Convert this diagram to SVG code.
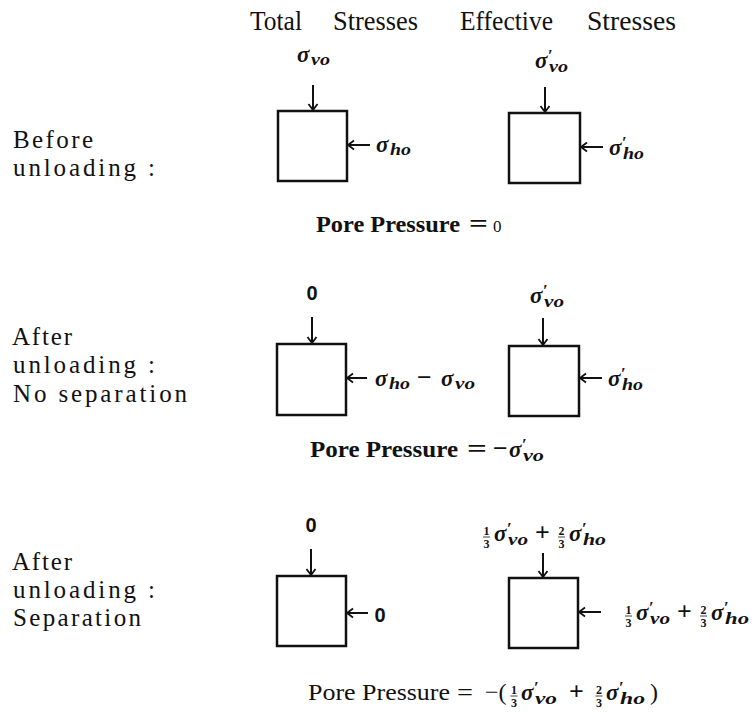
<svg xmlns="http://www.w3.org/2000/svg" width="756" height="715" viewBox="0 0 756 715">
<style>
.hd{font-family:"Liberation Serif",serif;font-size:27px;fill:#111}
.lb{font-family:"Liberation Serif",serif;font-size:25px;fill:#111}
.s{font-family:"Liberation Serif",serif;font-size:23px;font-weight:bold;font-style:italic;fill:#111}
.sb{font-family:"Liberation Serif",serif;font-size:17px;font-weight:bold;font-style:italic;fill:#111}
.pr{font-family:"Liberation Serif",serif;font-size:17px;font-weight:bold;fill:#111}
.fr{font-family:"Liberation Serif",serif;font-size:12px;font-weight:bold;fill:#111;text-anchor:middle}
.op{font-family:"Liberation Serif",serif;font-size:26px;font-weight:bold;fill:#111}
.z{font-family:"Liberation Sans",sans-serif;font-size:20px;font-weight:bold;fill:#111}
.pp{font-family:"Liberation Serif",serif;font-size:23px;font-weight:bold;fill:#111}
.ppr{font-family:"Liberation Serif",serif;font-size:24px;fill:#111}
.box{fill:none;stroke:#111;stroke-width:2.5}
.ar{fill:none;stroke:#111;stroke-width:2;marker-end:url(#ah)}
.fb{stroke:#111;stroke-width:0.8}
</style>
<defs>
<marker id="ah" markerUnits="userSpaceOnUse" markerWidth="12" markerHeight="12" viewBox="-8 -6 10 12" refX="0" refY="0" orient="auto">
<path d="M-6,-4.5 L0,0 L-6,4.5" fill="none" stroke="#111" stroke-width="1.8"/>
</marker>
</defs>

<g id="headers">
<text class="hd" x="250" y="30" textLength="52" lengthAdjust="spacingAndGlyphs">Total</text>
<text class="hd" x="333" y="30" textLength="85" lengthAdjust="spacingAndGlyphs">Stresses</text>
<text class="hd" x="460" y="30" textLength="93" lengthAdjust="spacingAndGlyphs">Effective</text>
<text class="hd" x="587" y="30" textLength="89" lengthAdjust="spacingAndGlyphs">Stresses</text>
</g>

<g id="row-labels">
<text class="lb" x="13" y="148" textLength="80" lengthAdjust="spacing">Before</text>
<text class="lb" x="13" y="176" textLength="142" lengthAdjust="spacing">unloading :</text>
<text class="lb" x="12" y="345" textLength="60" lengthAdjust="spacing">After</text>
<text class="lb" x="13" y="373" textLength="142" lengthAdjust="spacing">unloading :</text>
<text class="lb" x="13" y="402" textLength="174" lengthAdjust="spacing">No separation</text>
<text class="lb" x="12" y="570" textLength="60" lengthAdjust="spacing">After</text>
<text class="lb" x="13" y="598" textLength="142" lengthAdjust="spacing">unloading :</text>
<text class="lb" x="13" y="626" textLength="128" lengthAdjust="spacing">Separation</text>
</g>

<g id="connectors">
<line class="ar" x1="313" y1="85" x2="313" y2="110"/>
<line class="ar" x1="545" y1="87" x2="545" y2="112"/>
<line class="ar" x1="370" y1="145" x2="348" y2="145"/>
<line class="ar" x1="603" y1="147" x2="581" y2="147"/>
<line class="ar" x1="312" y1="317" x2="312" y2="343"/>
<line class="ar" x1="543" y1="318" x2="543" y2="345"/>
<line class="ar" x1="367" y1="378" x2="347" y2="378"/>
<line class="ar" x1="602" y1="378" x2="580" y2="378"/>
<line class="ar" x1="311" y1="549" x2="311" y2="575"/>
<line class="ar" x1="543" y1="553" x2="543" y2="577"/>
<line class="ar" x1="368" y1="613" x2="347" y2="613"/>
<line class="ar" x1="601" y1="612" x2="579" y2="612"/>
</g>

<g id="before-total">
<rect class="box" x="278" y="111" width="69" height="70"/>
<text><tspan class="s" x="297" y="62">σ</tspan><tspan class="sb" x="311" y="65" textLength="19" lengthAdjust="spacingAndGlyphs">vo</tspan></text>
<text><tspan class="s" x="376" y="152">σ</tspan><tspan class="sb" x="390" y="155" textLength="21" lengthAdjust="spacingAndGlyphs">ho</tspan></text>
</g>

<g id="before-effective">
<rect class="box" x="509" y="113" width="71" height="70"/>
<text><tspan class="s" x="535" y="68">σ</tspan><tspan class="pr" x="548" y="61">′</tspan><tspan class="sb" x="549" y="72" textLength="19" lengthAdjust="spacingAndGlyphs">vo</tspan></text>
<text><tspan class="s" x="609" y="155">σ</tspan><tspan class="pr" x="622" y="148">′</tspan><tspan class="sb" x="623" y="159" textLength="21" lengthAdjust="spacingAndGlyphs">ho</tspan></text>
</g>

<g id="pore-1">
<text class="pp" x="316" y="232" textLength="144" lengthAdjust="spacingAndGlyphs">Pore Pressure</text>
<text class="op" x="469" y="232" textLength="19" lengthAdjust="spacingAndGlyphs">=</text>
<text class="ppr" x="493" y="232" style="font-size:17px">0</text>
</g>

<g id="nosep-total">
<rect class="box" x="277" y="344" width="69" height="71"/>
<text class="z" x="312" y="300" text-anchor="middle">0</text>
<text><tspan class="s" x="375" y="386">σ</tspan><tspan class="sb" x="389" y="389" textLength="21" lengthAdjust="spacingAndGlyphs">ho</tspan><tspan class="op" x="417" y="386">−</tspan><tspan class="s" x="441" y="386">σ</tspan><tspan class="sb" x="455" y="389" textLength="20" lengthAdjust="spacingAndGlyphs">vo</tspan></text>
</g>

<g id="nosep-effective">
<rect class="box" x="509" y="346" width="70" height="70"/>
<text><tspan class="s" x="530" y="303">σ</tspan><tspan class="pr" x="543" y="296">′</tspan><tspan class="sb" x="544" y="307" textLength="20" lengthAdjust="spacingAndGlyphs">vo</tspan></text>
<text><tspan class="s" x="608" y="386">σ</tspan><tspan class="pr" x="621" y="379">′</tspan><tspan class="sb" x="622" y="390" textLength="21" lengthAdjust="spacingAndGlyphs">ho</tspan></text>
</g>

<g id="pore-2">
<text class="pp" x="310" y="457" textLength="148" lengthAdjust="spacingAndGlyphs">Pore Pressure</text>
<text class="op" x="467" y="457" textLength="20" lengthAdjust="spacingAndGlyphs">=</text>
<text><tspan class="op" x="493" y="457">−</tspan><tspan class="s" x="509" y="457">σ</tspan><tspan class="pr" x="522" y="450">′</tspan><tspan class="sb" x="523" y="461" textLength="21" lengthAdjust="spacingAndGlyphs">vo</tspan></text>
</g>

<g id="sep-total">
<rect class="box" x="277" y="576" width="69" height="70"/>
<text class="z" x="311" y="532" text-anchor="middle">0</text>
<text class="z" x="380" y="622" text-anchor="middle">0</text>
</g>

<g id="sep-effective">
<rect class="box" x="509" y="578" width="69" height="70"/>
<text class="fr" x="486.5" y="535">1</text><line class="fb" x1="483" y1="537" x2="490" y2="537"/><text class="fr" x="486.5" y="548">3</text>
<text><tspan class="s" x="494" y="541">σ</tspan><tspan class="pr" x="507" y="534">′</tspan><tspan class="sb" x="508" y="545" textLength="20" lengthAdjust="spacingAndGlyphs">vo</tspan><tspan class="op" x="535" y="541">+</tspan></text>
<text class="fr" x="561.5" y="535">2</text><line class="fb" x1="558" y1="537" x2="565" y2="537"/><text class="fr" x="561.5" y="548">3</text>
<text><tspan class="s" x="569" y="541">σ</tspan><tspan class="pr" x="582" y="534">′</tspan><tspan class="sb" x="583" y="545" textLength="23" lengthAdjust="spacingAndGlyphs">ho</tspan></text>

<text class="fr" x="628.5" y="614">1</text><line class="fb" x1="625" y1="616" x2="632" y2="616"/><text class="fr" x="628.5" y="627">3</text>
<text><tspan class="s" x="636" y="620">σ</tspan><tspan class="pr" x="649" y="613">′</tspan><tspan class="sb" x="650" y="624" textLength="20" lengthAdjust="spacingAndGlyphs">vo</tspan><tspan class="op" x="677" y="620">+</tspan></text>
<text class="fr" x="703.5" y="614">2</text><line class="fb" x1="700" y1="616" x2="707" y2="616"/><text class="fr" x="703.5" y="627">3</text>
<text><tspan class="s" x="711" y="620">σ</tspan><tspan class="pr" x="724" y="613">′</tspan><tspan class="sb" x="725" y="624" textLength="24" lengthAdjust="spacingAndGlyphs">ho</tspan></text>
</g>

<g id="pore-3">
<text class="ppr" x="308" y="700" textLength="142" lengthAdjust="spacingAndGlyphs">Pore Pressure</text>
<text class="ppr" x="457" y="700" textLength="16" lengthAdjust="spacingAndGlyphs">=</text>
<text class="ppr" x="485" y="700">−(</text>
<text class="fr" x="514" y="694">1</text><line class="fb" x1="510.5" y1="696" x2="517.5" y2="696"/><text class="fr" x="514" y="707">3</text>
<text><tspan class="s" x="521" y="700">σ</tspan><tspan class="pr" x="534" y="693">′</tspan><tspan class="sb" x="535" y="704" textLength="22" lengthAdjust="spacingAndGlyphs">vo</tspan><tspan class="op" x="569" y="700">+</tspan></text>
<text class="fr" x="599" y="694">2</text><line class="fb" x1="595.5" y1="696" x2="602.5" y2="696"/><text class="fr" x="599" y="707">3</text>
<text><tspan class="s" x="606" y="700">σ</tspan><tspan class="pr" x="619" y="693">′</tspan><tspan class="sb" x="620" y="704" textLength="25" lengthAdjust="spacingAndGlyphs">ho</tspan><tspan class="ppr" x="650" y="700">)</tspan></text>
</g>
</svg>
